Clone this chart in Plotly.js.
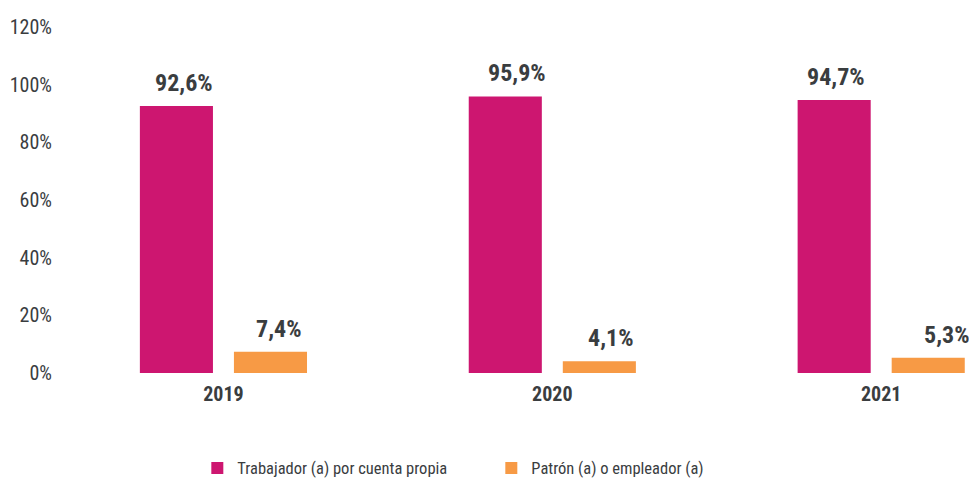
<!DOCTYPE html>
<html>
<head>
<meta charset="utf-8">
<script src="https://cdn.plot.ly/plotly-3.0.1.min.js"></script>
<style>html,body{margin:0;padding:0;background:#fff;}#chart{width:969px;height:479px;}</style>
</head>
<body>
<div id="chart"></div>
<script>
const years = ["2019", "2020", "2021"];
const cuentaPropia = [92.6, 95.9, 94.7];
const empleador = [7.4, 4.1, 5.3];
const seriesNames = ["Trabajador (a) por cuenta propia", "Patrón (a) o empleador (a)"];
const yTicks = [0, 20, 40, 60, 80, 100, 120];

const FONT = "Roboto Condensed, Liberation Sans Narrow, DejaVu Sans Condensed, Roboto, sans-serif";
const fmt = v => v.toFixed(1).replace('.', ',') + '%';

// label placement (style only): pixel offset of each label from its group centre
const labelShift = [[-39, -35, -45], [55, 58, 65]];

const traces = [
  {type: 'bar', x: years, y: cuentaPropia, name: seriesNames[0],
   marker: {color: '#CD1670'}, hoverinfo: 'none'},
  {type: 'bar', x: years, y: empleador, name: seriesNames[1],
   marker: {color: '#F79A45'}, hoverinfo: 'none'}
];

const annotations = [];
[cuentaPropia, empleador].forEach((arr, si) => {
  arr.forEach((v, i) => {
    annotations.push({
      x: i, y: v, xref: 'x', yref: 'y',
      text: fmt(v), showarrow: false,
      yanchor: 'bottom', yshift: 7, xshift: labelShift[si][i],
      font: {family: FONT, size: 24, color: '#3a3d3f', weight: 'bold'}
    });
  });
});

const layout = {
  width: 969, height: 479,
  margin: {l: 59, r: 0, t: 27, b: 106, autoexpand: false},
  paper_bgcolor: '#fff', plot_bgcolor: '#fff',
  font: {family: FONT, color: '#3a3d3f'},
  barmode: 'group', bargap: 0.428, bargroupgap: 0.223,
  showlegend: true,
  legend: {orientation: 'h', x: 0.152, xanchor: 'left', y: -0.275, yanchor: 'middle',
           font: {family: FONT, size: 16.5, color: '#3a3d3f'}, itemwidth: 30,
           entrywidth: 249, traceorder: 'normal'},
  xaxis: {type: 'category', range: [-0.5, 2.267], showline: false, showgrid: false,
          zeroline: false, ticks: '', fixedrange: true, ticklabelstandoff: 7,
          tickfont: {family: FONT, size: 20, color: '#3a3d3f', weight: 'bold'}},
  yaxis: {range: [0, 120], tickvals: yTicks, ticktext: yTicks.map(t => t + '%'),
          showgrid: false, zeroline: false, showline: false, ticks: '',
          ticklabelstandoff: 6, fixedrange: true,
          tickfont: {family: FONT, size: 20, color: '#3a3d3f'}},
  annotations: annotations
};

Plotly.newPlot('chart', traces, layout, {displayModeBar: false});
</script>
</body>
</html>
